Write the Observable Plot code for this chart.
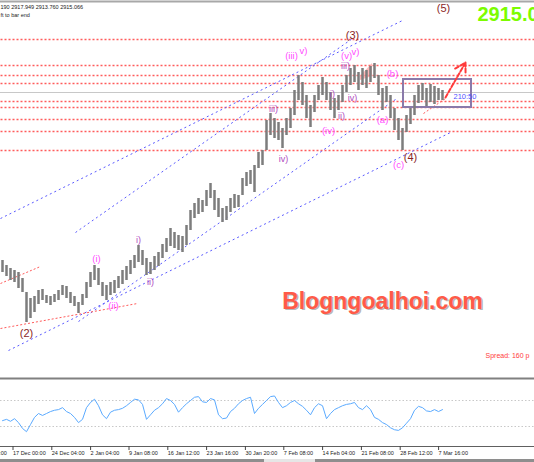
<!DOCTYPE html>
<html><head><meta charset="utf-8">
<script src="https://cdn.jsdelivr.net/npm/d3@7"></script>
<script src="https://cdn.jsdelivr.net/npm/@observablehq/plot@0.6"></script>
<style>
html,body{margin:0;padding:0;background:#fff;}
#wrap{position:relative;width:534px;height:462px;overflow:hidden;background:#fff;font-family:"Liberation Sans",Arial,sans-serif;}
#wrap svg{display:block;position:absolute;left:0;overflow:hidden;}
.sb{position:absolute;top:459px;height:3px;}
</style></head><body><div id="wrap"></div>
<script>
// ---- price bars (bar index, high / low) ----
const barHigh = [2747,2742,2739,2737,2735,2729,2715,2709,2711,2717,
 2718,2712,2711,2713,2717,2722,2721,2715,2711,2705,
 2713,2725,2735,2742,2739,2725,2722,2725,2727,2731,
 2737,2741,2747,2752,2762,2757,2749,2745,2751,2755,
 2763,2769,2779,2775,2772,2771,2782,2797,2804,2809,
 2807,2817,2824,2817,2809,2799,2801,2809,2813,2812,
 2829,2835,2837,2842,2855,2857,2887,2894,2889,2885,
 2879,2889,2899,2917,2932,2925,2912,2902,2912,2922,
 2930,2925,2915,2909,2912,2922,2932,2939,2942,2935,
 2939,2937,2941,2944,2932,2919,2921,2912,2899,2889,
 2879,2892,2899,2912,2922,2924,2919,2923,2921,2919,2917];
const barLow = [2735,2731,2727,2725,2719,2715,2685,2689,2695,2703,
 2707,2704,2702,2705,2707,2712,2709,2704,2701,2694,
 2702,2709,2720,2727,2722,2711,2707,2712,2714,2719,
 2723,2727,2733,2739,2745,2742,2732,2733,2737,2741,
 2749,2755,2761,2759,2757,2755,2762,2777,2789,2793,
 2795,2801,2809,2797,2790,2785,2787,2795,2799,2800,
 2812,2821,2823,2815,2839,2842,2857,2872,2869,2867,
 2859,2872,2879,2892,2907,2902,2889,2880,2895,2907,
 2912,2907,2897,2889,2897,2905,2915,2922,2925,2917,
 2922,2919,2925,2929,2912,2897,2905,2889,2877,2867,
 2857,2875,2883,2892,2904,2907,2901,2905,2903,2907,2907];
// ---- oscillator values per bar ----
const oscValues = [39,41,38,42,36,27,22,33,44,50,
 47,50,53,55,56,59,53,50,44,36,
 41,59,67,72,62,48,42,52,55,56,
 58,62,67,72,71,64,41,48,55,59,
 65,73,70,64,52,59,65,70,75,76,
 68,67,73,71,48,42,43,53,58,65,
 70,73,75,50,58,64,70,76,77,67,
 59,62,67,70,65,61,55,48,59,65,
 62,42,50,56,59,62,64,65,67,59,
 56,62,56,44,41,36,33,28,25,24,
 28,35,42,55,61,59,54,53,56,53,56];
const oscLevels = [30, 70];
// ---- time axis ----
const tickIdx = [-7.2,2.5,12.2,21.9,31.5,41.2,50.9,60.6,70.2,79.9,89.6,99.3,108.9];
const tickLabels = ["10 Dec 20:00","17 Dec 00:00","24 Dec 04:00","2 Jan 04:00","9 Jan 08:00","16 Jan 12:00","23 Jan 16:00","30 Jan 20:00","7 Feb 08:00","14 Feb 04:00","21 Feb 08:00","28 Feb 12:00","7 Mar 16:00"];
// ---- horizontal levels ----
const levels = [2968,2942,2932,2924,2906,2900,2888,2876,2857];
const bidPrice = [2915];
// ---- trend lines (bar index, price) ----
const blueX1 = [-0.5,18.25,1.5,19], blueY1 = [2789,2775,2657,2686];
const blueX2 = [100,87.5,112,98.25], blueY2 = [2987,2969,2875,2908];
const redX1 = [-0.5,-0.5,105.25], redY1 = [2724,2679,2894];
const redX2 = [9.5,33.75,110.75], redY2 = [2741,2704,2909];
const arrowFrom = [110.75,2910], arrowTo = [115.75,2945];
const boxX = [100.25,117.25], boxY = [2900,2928];
const triX = [89.5,92.5], triLo = [2927,2931], triHi = [2931,2944];
// ---- wave labels ----
const waveText = ["(5)","(3)","(4)","(2)","(iii)","v)","(v)","v)","iii)","(b)","i)","iv)","iii)","ii)","(iv)","(a)","iv)","(c)","(i)","(ii)","i)","ii)"];
const waveIdx = [110.25,87.5,102,6,72.25,75.25,86,88.25,85.75,97.5,82.5,87.5,67.75,84.75,81.5,95,70.25,99,23.5,27.75,34,37];
const wavePrice = [2999,2972,2850,2674,2952,2957,2952,2956,2941,2934,2913,2909,2898,2891,2877,2888,2848,2843,2749,2702,2767,2725];
const waveKind = ["M","M","M","M","I","I","I","I","m","I","m","m","m","m","I","I","m","I","I","I","m","m"];
// ---- other texts ----
const headerLines = ["190 2917.949 2913.760 2915.066","ft to bar end"];
const headerPrice = [3000, 2992];
const bigPrice = "2915.066";
const watermark = "Blogngoalhoi.com";
const spreadText = "Spread: 160 p";
const timerText = "210:50";

const bars = barHigh.map((h,i)=>({i, high:h, low:barLow[i]}));
const waves = waveText.map((t,i)=>({t, x:waveIdx[i], y:wavePrice[i], k:waveKind[i]}));
const blue = blueX1.map((_,i)=>({x1:blueX1[i],y1:blueY1[i],x2:blueX2[i],y2:blueY2[i]}));
const red = redX1.map((_,i)=>({x1:redX1[i],y1:redY1[i],x2:redX2[i],y2:redY2[i]}));
const tri = triX.map((x,i)=>({x, lo:triLo[i], hi:triHi[i]}));
const header = headerLines.map((t,i)=>({t, y:headerPrice[i]}));
const font = "Liberation Sans, Arial, sans-serif";

const main = Plot.plot({
  width:534, height:380, margin:0,
  x:{domain:[-0.5,133], axis:null},
  y:{domain:[2627,3007], axis:null},
  style:{fontFamily:font, background:"transparent"},
  marks:[
    Plot.ruleY([3006], {stroke:"#a8a8a8", strokeWidth:2}),
    Plot.link(levels, {x1:-0.5, x2:133, y1:d=>d, y2:d=>d, stroke:"#ff5c5c", strokeDasharray:"2,2", strokeWidth:1.3}),
    Plot.ruleY(bidPrice, {stroke:"#c8c8c8", strokeWidth:1}),
    Plot.link(blue, {x1:"x1",y1:"y1",x2:"x2",y2:"y2", stroke:"#5a5aff", strokeDasharray:"2,3", strokeWidth:1}),
    Plot.link(red, {x1:"x1",y1:"y1",x2:"x2",y2:"y2", stroke:"#ff5a5a", strokeDasharray:"2,2", strokeWidth:1}),
    Plot.area(tri, {x1:"x", y1:"lo", y2:"hi", fill:"#ff8a8a", fillOpacity:0.6}),
    Plot.rect([0], {x1:boxX[0], x2:boxX[1], y1:boxY[0], y2:boxY[1], fill:"none", stroke:"#8a7aaa", strokeWidth:2}),
    Plot.ruleX(bars, {x:"i", y1:"low", y2:"high", stroke:"#7d7d7d", strokeWidth:2.5}),
    Plot.arrow([0], {x1:arrowFrom[0], y1:arrowFrom[1], x2:arrowTo[0], y2:arrowTo[1], stroke:"#ff3a3a", strokeWidth:2, strokeDasharray:"4,2", headLength:9}),
    Plot.text(waves.filter(d=>d.k==="M"), {x:"x", y:"y", text:"t", fill:"#8b1f1f", fontSize:11}),
    Plot.text(waves.filter(d=>d.k==="I"), {x:"x", y:"y", text:"t", fill:"#ff4dff", fontSize:9.5}),
    Plot.text(waves.filter(d=>d.k==="m"), {x:"x", y:"y", text:"t", fill:"#b04cc0", fontSize:9}),
    Plot.text(header, {x:-0.5, y:"y", text:"t", fill:"#222", fontSize:5.5, textAnchor:"start"}),
    Plot.text([bigPrice], {x:118.75, y:2993, text:d=>d, textAnchor:"start", fill:"#7cfc00", fontSize:20, fontWeight:"bold"}),
    Plot.text([watermark], {x:95, y:2706, dx:1.5, dy:1.5, text:d=>d, fill:"#9a9a9a", fillOpacity:0.7, fontSize:23, fontWeight:"bold"}),
    Plot.text([watermark], {x:95, y:2706, text:d=>d, fill:"#ff5a48", fontSize:23, fontWeight:"bold"}),
    Plot.text([spreadText], {x:120.75, y:2652, text:d=>d, textAnchor:"start", fill:"#ff3c3c", fontSize:7}),
    Plot.text([timerText], {x:112.75, y:2911, text:d=>d, textAnchor:"start", fill:"#5050ff", fontSize:7.5}),
    Plot.ruleY([2629], {stroke:"#808080", strokeWidth:2})
  ]
});

const labelMap = new Map(tickIdx.map((t,i)=>[t, tickLabels[i]]));
const osc = Plot.plot({
  width:534, height:82, marginTop:0, marginLeft:0, marginRight:0, marginBottom:16,
  x:{domain:[-0.5,133]},
  y:{domain:[-0.8,100.8], axis:null},
  style:{fontFamily:font, background:"transparent"},
  marks:[
    Plot.ruleY(oscLevels, {stroke:"#c8c8c8", strokeDasharray:"1.5,2"}),
    Plot.line(oscValues, {x:(d,i)=>i, y:d=>d, stroke:"#5aaaff", strokeWidth:1}),
    Plot.ruleY([-0.8], {stroke:"#606060"}),
    Plot.axisX({ticks:tickIdx, tickFormat:d=>labelMap.get(d), textAnchor:"start", tickSize:4, tickPadding:1, fontSize:5.5, dx:0.5, stroke:"#444", fill:"#222"})
  ]
});

const wrap = document.getElementById("wrap");
main.style.top = "0px";
osc.style.top = "380px";
wrap.appendChild(main);
wrap.appendChild(osc);
[[0,264,"#8e8e8e"],[264,51,"#e6e6e6"],[315,219,"#8e8e8e"]].forEach(([l,w,c])=>{
  const d = document.createElement("div");
  d.className = "sb"; d.style.left = l+"px"; d.style.width = w+"px"; d.style.background = c;
  wrap.appendChild(d);
});
</script></body></html>
